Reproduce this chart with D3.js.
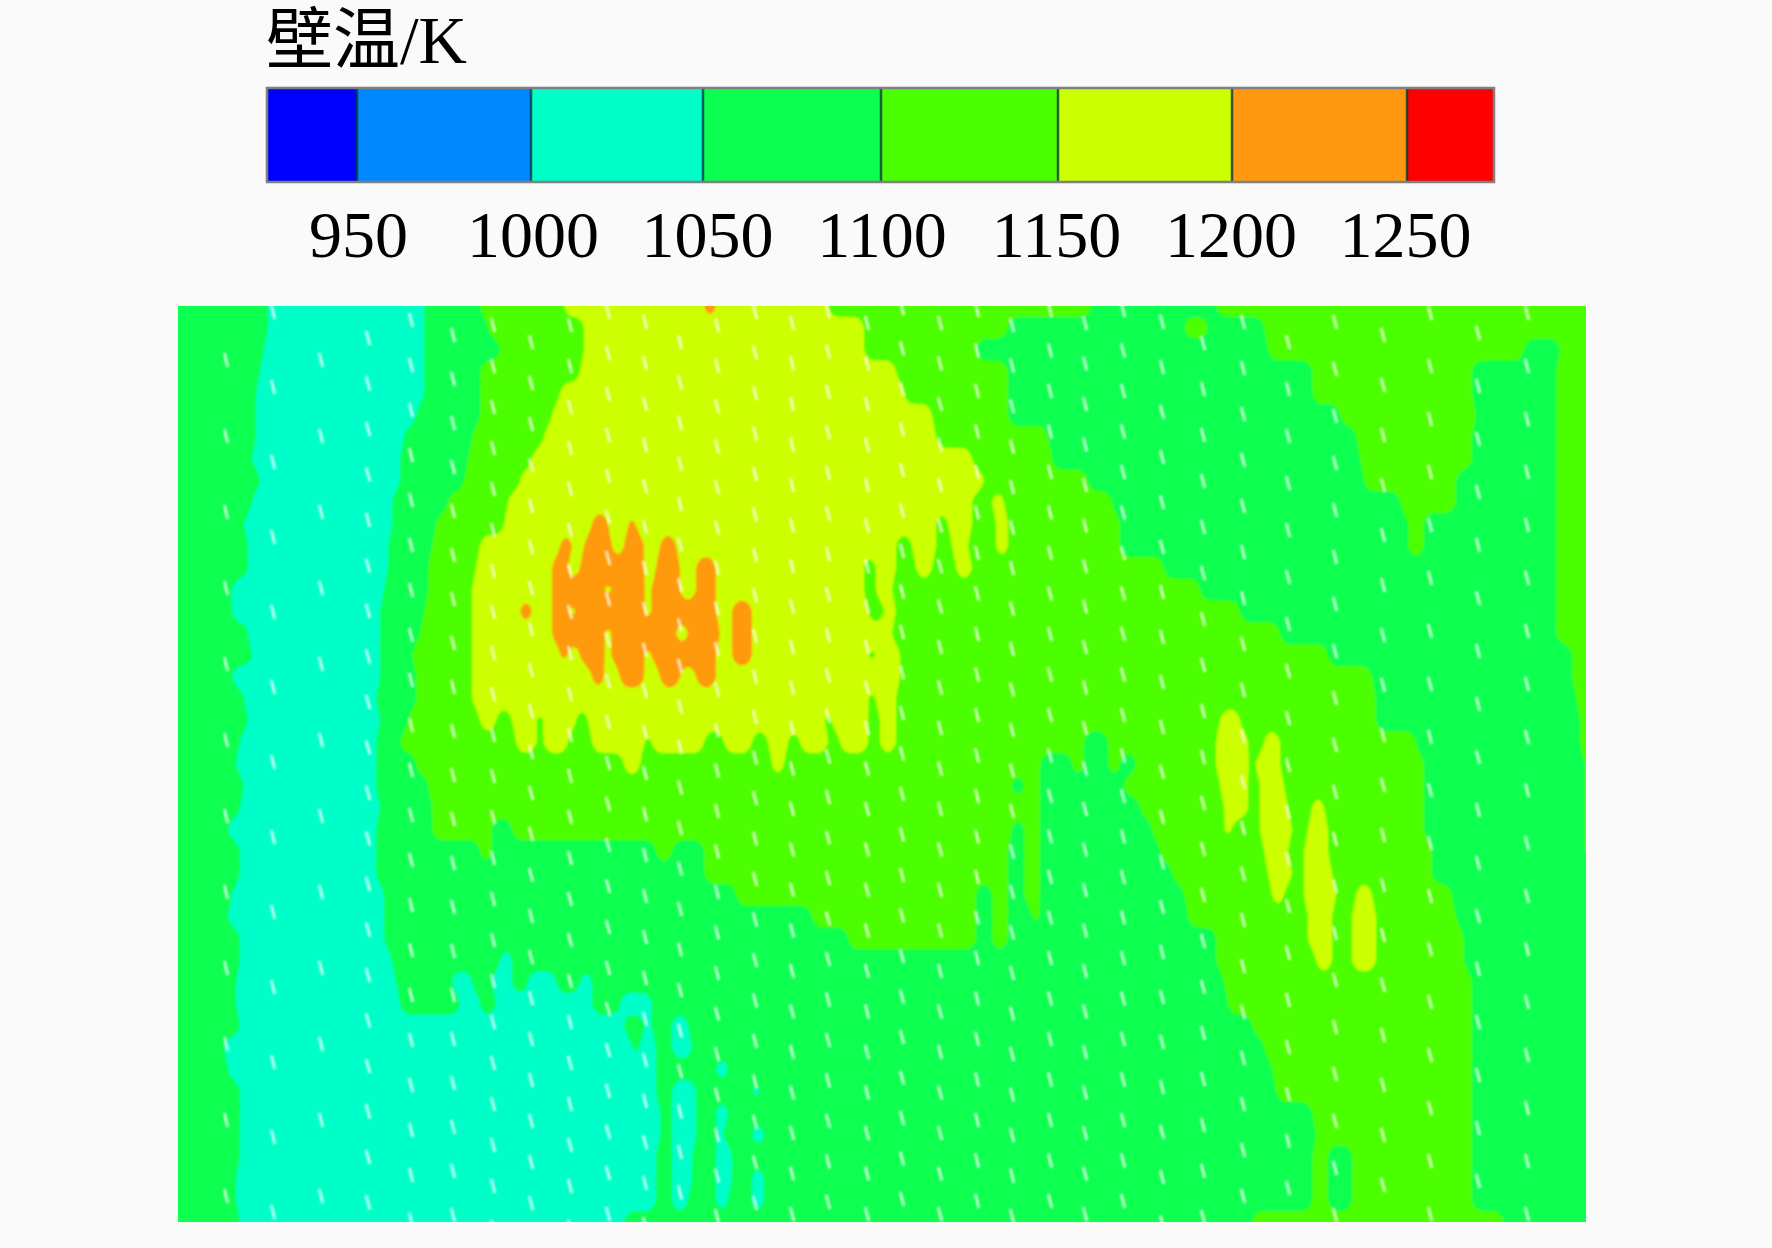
<!DOCTYPE html>
<html><head><meta charset="utf-8">
<script src="https://cdn.jsdelivr.net/npm/d3@7"></script>
<style>html,body{margin:0;padding:0;background:#fafafa}svg{display:block}</style>
</head><body><svg id="c" width="1772" height="1248"></svg>
<script>
// legend
const titleText = "壁温/K";
const bandEdges = [924, 950, 1000, 1050, 1100, 1150, 1200, 1250, 1275];
const bandColors = ["#0000ff", "#0088ff", "#00ffc8", "#0cff50", "#4cff00", "#ccff00", "#ff9a10", "#ff0000"];
const tickValues = [950, 1000, 1050, 1100, 1150, 1200, 1250];
// band index -> representative temperature
const bandCenters = [925, 975, 1025, 1075, 1125, 1175, 1225, 1262];
const contourLevels = [1000, 1050, 1100, 1150, 1200, 1250];
// temperature read along each scan row of the wall: band index, position where that band stops
const wallRows = [
[3,266,2,425,3,480,4,565,5,703,6,715,5,827,4,1090,3,1215,4,1586],
[3,266,2,425,3,488,4,585,5,863,4,1007,3,1183,4,1207,3,1263,4,1586],
[3,265,2,425,3,498,4,585,5,863,4,977,3,1267,4,1523,3,1560,4,1586],
[3,261,2,423,3,481,4,581,5,897,4,1007,3,1310,4,1473,3,1557,4,1586],
[3,256,2,423,3,480,4,561,5,903,4,1007,3,1313,4,1472,3,1557,4,1586],
[3,256,2,416,3,478,4,553,5,933,4,1007,3,1340,4,1477,3,1557,4,1586],
[3,256,2,405,3,473,4,545,5,937,4,1047,3,1357,4,1473,3,1557,4,1586],
[3,250,2,400,3,468,4,531,5,970,4,1053,3,1360,4,1473,3,1557,4,1586],
[3,258,2,398,3,465,4,518,5,983,4,1087,3,1363,4,1457,3,1557,4,1586],
[3,253,2,393,3,448,4,508,5,973,4,993,5,1005,4,1110,3,1400,4,1457,3,1557,4,1586],
[3,245,2,391,3,436,4,505,5,593,6,607,5,628,6,637,5,936,4,946,5,973,4,995,5,1007,4,1120,3,1407,4,1425,3,1557,4,1586],
[3,248,2,388,3,433,4,481,5,560,6,573,5,585,6,610,5,622,6,643,5,658,6,675,5,897,4,910,5,937,4,950,5,968,4,997,5,1007,4,1120,3,1408,4,1425,3,1557,4,1586],
[3,248,2,386,3,428,4,476,5,553,6,567,5,578,6,642,5,655,6,679,5,695,6,714,5,863,4,875,5,897,4,917,5,933,4,957,5,970,4,1165,3,1557,4,1586],
[3,231,2,383,3,426,4,473,5,553,6,602,5,610,6,642,5,650,6,679,5,695,6,715,5,865,4,877,5,893,4,1200,3,1557,4,1586],
[3,233,2,381,3,423,4,471,5,520,6,530,5,551,6,569,5,575,6,642,5,651,6,717,5,731,6,750,5,867,4,883,5,895,4,1238,3,1557,4,1586],
[3,248,2,378,3,421,4,471,5,551,6,605,5,611,6,675,5,688,6,720,5,731,6,750,5,893,4,1280,3,1557,4,1586],
[3,250,2,381,3,410,4,471,5,558,6,568,5,581,6,605,5,611,6,642,5,651,6,715,5,733,6,750,5,867,4,877,5,898,4,1327,3,1570,4,1586],
[3,233,2,380,3,415,4,471,5,590,6,605,5,618,6,642,5,658,6,679,5,695,6,715,5,900,4,1373,3,1570,4,1586],
[3,245,2,376,3,415,4,473,5,866,4,875,5,897,4,1377,3,1575,4,1586],
[3,248,2,378,3,408,4,478,5,495,4,511,5,536,4,545,5,575,4,588,5,823,4,833,5,867,4,880,5,895,4,1220,5,1240,4,1377,3,1578,4,1586],
[3,238,2,375,3,400,4,515,5,535,4,545,5,568,4,590,5,645,4,650,5,703,4,723,5,753,4,767,5,787,4,800,5,827,4,840,5,867,4,880,5,895,4,1083,3,1107,4,1217,5,1247,4,1262,5,1280,4,1417,3,1580,4,1586],
[3,235,2,375,3,415,4,625,5,641,4,770,5,782,4,1040,3,1070,4,1083,3,1107,4,1120,3,1137,4,1217,5,1247,4,1257,5,1280,4,1423,3,1582,4,1586],
[3,243,2,376,3,428,4,1010,3,1023,4,1040,3,1125,4,1218,5,1247,4,1258,5,1283,4,1423,3,1583,4,1586],
[3,240,2,378,3,433,4,1040,3,1140,4,1222,5,1247,4,1258,5,1287,4,1312,5,1323,4,1425,3,1583,4,1586],
[3,228,2,375,3,433,4,491,3,511,4,1010,3,1023,4,1040,3,1150,4,1225,5,1232,4,1260,5,1290,4,1307,5,1327,4,1425,3,1583,4,1586],
[3,240,2,375,3,478,4,493,3,657,4,673,3,703,4,1008,3,1023,4,1040,3,1160,4,1263,5,1287,4,1305,5,1328,4,1430,3,1583,4,1586],
[3,240,2,376,3,703,4,1008,3,1023,4,1040,3,1170,4,1267,5,1292,4,1305,5,1330,4,1432,3,1586],
[3,231,2,383,3,737,4,977,3,993,4,1008,3,1023,4,1040,3,1182,4,1272,5,1283,4,1305,5,1335,4,1355,5,1372,4,1453,3,1586],
[3,228,2,385,3,810,4,977,3,993,4,1008,3,1030,4,1040,3,1187,4,1307,5,1333,4,1352,5,1377,4,1457,3,1586],
[3,240,2,385,3,847,4,977,3,993,4,1008,3,1215,4,1307,5,1332,4,1352,5,1377,4,1463,3,1586],
[3,238,2,391,3,498,2,511,3,1217,4,1317,5,1330,4,1353,5,1377,4,1463,3,1586],
[3,235,2,395,3,451,2,471,3,491,2,511,3,528,2,555,3,581,2,592,3,1223,4,1472,3,1586],
[3,235,2,401,3,461,2,478,3,495,2,591,3,621,2,650,3,1227,4,1472,3,1586],
[3,238,2,625,3,645,2,653,3,673,2,687,3,1250,4,1472,3,1586],
[3,225,2,631,3,638,2,655,3,673,2,690,3,1263,4,1472,3,1586],
[3,228,2,657,3,715,2,728,3,1273,4,1472,3,1586],
[3,240,2,657,3,673,2,695,3,750,2,760,3,1275,4,1472,3,1586],
[3,241,2,660,3,673,2,695,3,715,2,727,3,1310,4,1472,3,1586],
[3,240,2,660,3,673,2,695,3,715,2,725,3,752,2,762,3,1315,4,1472,3,1586],
[3,240,2,657,3,673,2,692,3,715,2,730,3,1313,4,1327,3,1350,4,1472,3,1586],
[3,235,2,655,3,672,2,692,3,717,2,730,3,753,2,765,3,1313,4,1327,3,1350,4,1472,3,1586],
[3,236,2,655,3,672,2,688,3,717,2,728,3,753,2,765,3,1313,4,1327,3,1350,4,1472,3,1586],
[3,240,2,625,3,1250,4,1503,3,1586]
];
// film-cooling holes: position of each hole column, first hole, spacing of holes
const holeColumnX = [226,273,321,368,411,453,493,531,570,608,645,680,717,755,792,828,867,902,940,977,1012,1050,1085,1123,1162,1203,1243,1288,1335,1383,1430,1478,1527];
const holeColumnTop = [360,312,360,338,320,335,325,342,325,312,322,342,325,312,323,311,323,308,323,310,325,310,323,310,322,343,322,342,322,335,313,333,313];
const holeColumnStep = [76,75,76,45.5,45,44,41,41,41,41,41,40.5,40.5,40.5,40.5,40.5,40.5,40.5,40.5,40.5,40.5,40.5,40.5,40.5,45,46,46,47,47,50,53,53,53];

const svg = d3.select("#c");
const serif = "'Liberation Serif','Noto Sans CJK SC',serif";

// title
svg.append("text").attr("x", 266).attr("y", 63).attr("font-family", serif)
  .attr("font-size", 67).attr("fill", "#000").text(titleText);

// colour bar
const barX = d3.scaleLinear().domain(bandEdges).range([267, 357, 531, 703, 881, 1058, 1232, 1407, 1494]);
const labelX = d3.scaleLinear().domain([950, 1250]).range([358, 1405]);
const barTop = 88, barBottom = 182;
const bar = svg.append("g");
bar.selectAll("rect").data(bandColors).join("rect")
  .attr("x", (d, i) => barX(bandEdges[i]))
  .attr("width", (d, i) => barX(bandEdges[i + 1]) - barX(bandEdges[i]))
  .attr("y", barTop).attr("height", barBottom - barTop).attr("fill", d => d);
bar.selectAll("line").data(bandEdges.slice(1, -1)).join("line")
  .attr("x1", d => barX(d)).attr("x2", d => barX(d))
  .attr("y1", barTop).attr("y2", barBottom)
  .attr("stroke", "#0a3a3a").attr("stroke-opacity", .8).attr("stroke-width", 2.5);
bar.append("rect").attr("x", barX(bandEdges[0])).attr("y", barTop)
  .attr("width", barX(bandEdges[8]) - barX(bandEdges[0])).attr("height", barBottom - barTop)
  .attr("fill", "none").attr("stroke", "#808080").attr("stroke-width", 2.5);

const axis = svg.append("g").attr("transform", `translate(0,${barBottom})`)
  .call(d3.axisBottom(labelX).tickValues(tickValues).tickSize(0).tickFormat(d3.format("d")));
axis.select(".domain").remove();
axis.selectAll("text").attr("y", 75).attr("dy", 0).attr("font-family", serif)
  .attr("font-size", 66).attr("fill", "#000");

// contour field
const stepX = 4;
const nx = Math.round((1586 - 178) / stepX) + 1, ny = wallRows.length;
const field = new Float64Array(nx * ny);
wallRows.forEach((row, j) => {
  let k = 0;
  for (let i = 0; i < nx; i++) {
    const p = 178 + i * stepX;
    while (k + 3 < row.length && p > row[k + 1]) k += 2;
    field[j * nx + i] = bandCenters[row[k]];
  }
});
d3.blur2({ data: field, width: nx, height: ny }, 0.4, 0);
const gx = d3.scaleLinear().domain([0.5, nx - 0.5]).range([178, 1586]);
const gy = d3.scaleLinear().domain([0.5, ny - 0.5]).range([306, 1222]);
const project = d3.geoTransform({ point(x, y) { this.stream.point(gx(x), gy(y)); } });
const path = d3.geoPath(project);
const defs = svg.append("defs");
defs.append("clipPath").attr("id", "wall").append("rect")
  .attr("x", 178).attr("y", 306).attr("width", 1408).attr("height", 916);
defs.append("filter").attr("id", "soft").attr("x", "-2%").attr("y", "-2%").attr("width", "104%").attr("height", "104%")
  .append("feGaussianBlur").attr("stdDeviation", 0.8);
const contours = d3.contours().size([nx, ny]).thresholds(contourLevels)(field);
const colorOf = d3.scaleThreshold().domain(bandEdges.slice(1, -1)).range(bandColors);
const wall = svg.append("g").attr("clip-path", "url(#wall)");
const fieldG = wall.append("g").attr("filter", "url(#soft)");
fieldG.selectAll("path").data(contours).join("path")
  .attr("d", path).attr("fill", d => colorOf(d.value));

// holes
const holes = holeColumnX.flatMap((x, i) =>
  d3.range(holeColumnTop[i], 1228, holeColumnStep[i]).map(y => ({ x, y })));
const holeX = d3.scaleLinear().domain([178, 1586]).range([178, 1586]);
const holeY = d3.scaleLinear().domain([306, 1222]).range([306, 1222]);
wall.append("g").attr("filter", "url(#soft)").selectAll("line").data(holes).join("line")
  .attr("x1", d => holeX(d.x) - 1.8).attr("x2", d => holeX(d.x) + 1.8)
  .attr("y1", d => holeY(d.y) - 7).attr("y2", d => holeY(d.y) + 7)
  .attr("stroke", "#fff").attr("stroke-opacity", .75).attr("stroke-width", 3);
</script></body></html>
